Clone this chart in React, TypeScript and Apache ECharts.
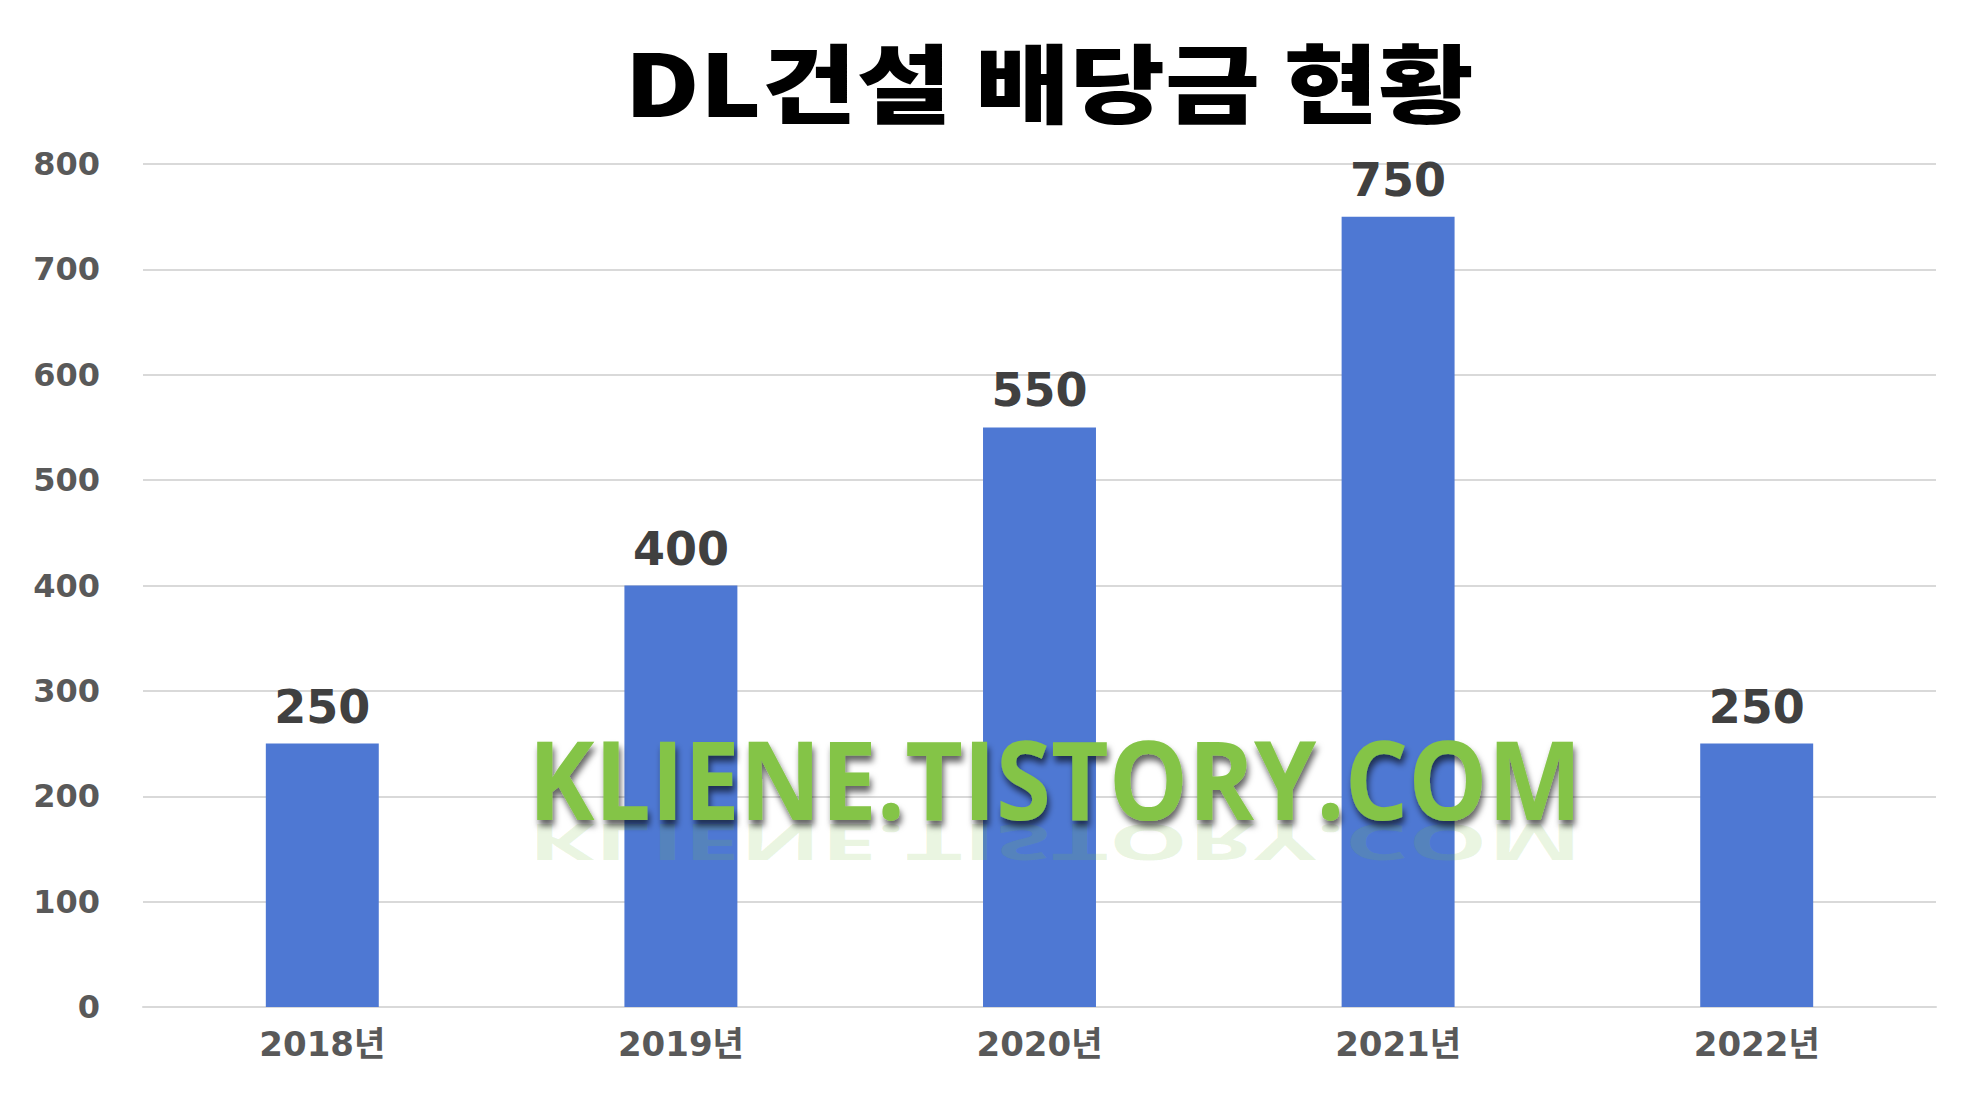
import React, { useEffect, useRef } from "react";
import * as echarts from "echarts";

const categories = ["2018년", "2019년", "2020년", "2021년", "2022년"];
const dividends = [250, 400, 550, 750, 250];
const yMin = 0;
const yMax = 800;
const yInterval = 100;
const titleText = "DL건설 배당금 현황";
const watermarkText = "KLIENE.TISTORY.COM";

const KR = '"Noto Sans CJK KR", sans-serif';
const NUM = '"DejaVu Sans", "Noto Sans CJK KR", sans-serif';
const WM = '"Open Sans", sans-serif';

export default function App() {
  const ref = useRef<HTMLDivElement>(null);
  useEffect(() => {
    if (!ref.current) return;
    const chart = echarts.init(ref.current, null, { renderer: "svg" });
    chart.setOption({
      animation: false,
      backgroundColor: "#ffffff",
      grid: { left: 143, right: 50, top: 164, bottom: 88, containLabel: false },
      xAxis: {
        type: "category",
        data: categories,
        axisLine: { show: true, lineStyle: { color: "#d9d9d9", width: 2 } },
        axisTick: { show: false },
        axisLabel: {
          fontFamily: NUM,
          fontSize: 34,
          fontWeight: "bold",
          color: "#595959",
          margin: 20,
        },
      },
      yAxis: {
        type: "value",
        min: yMin,
        max: yMax,
        interval: yInterval,
        axisLine: { show: false },
        axisTick: { show: false },
        splitLine: { lineStyle: { color: "#d9d9d9", width: 2 } },
        axisLabel: {
          fontFamily: NUM,
          fontSize: 32,
          fontWeight: "bold",
          color: "#595959",
          margin: 43,
        },
      },
      series: [
        {
          type: "bar",
          data: dividends,
          barWidth: "31.5%",
          itemStyle: { color: "#4E78D3" },
          label: {
            show: true,
            position: "top",
            distance: 14,
            fontFamily: NUM,
            fontSize: 46,
            fontWeight: "bold",
            color: "#404040",
          },
          z: 2,
        },
      ],
      graphic: [
        {
          type: "text",
          x: 1049,
          y: 122,
          scaleX: 1.2,
          z: 12,
          style: {
            text: titleText,
            fontFamily: KR,
            fontSize: 86,
            fontWeight: 900,
            fill: "#000000",
            textAlign: "center",
            textVerticalAlign: "bottom",
          },
        },
        {
          type: "text",
          x: 1055,
          y: 818,
          scaleX: 0.907,
          scaleY: -0.45,
          z: 10,
          style: {
            text: watermarkText,
            fontFamily: WM,
            fontSize: 110,
            fontWeight: 700,
            fill: "rgba(125,194,66,0.16)",
            textAlign: "center",
            textVerticalAlign: "bottom",
          },
        },
        {
          type: "text",
          x: 1055,
          y: 778,
          scaleX: 0.907,
          z: 11,
          style: {
            text: watermarkText,
            fontFamily: WM,
            fontSize: 110,
            fontWeight: 700,
            fill: "#84C447",
            textAlign: "center",
            textVerticalAlign: "middle",
            textShadowColor: "rgba(0,0,0,0.6)",
            textShadowBlur: 6,
            textShadowOffsetX: 2,
            textShadowOffsetY: 6,
          },
        },
      ],
    });
    return () => chart.dispose();
  }, []);
  return (
    <div
      ref={ref}
      style={{ position: "fixed", left: 0, top: 0, width: 1986, height: 1095 }}
    />
  );
}
